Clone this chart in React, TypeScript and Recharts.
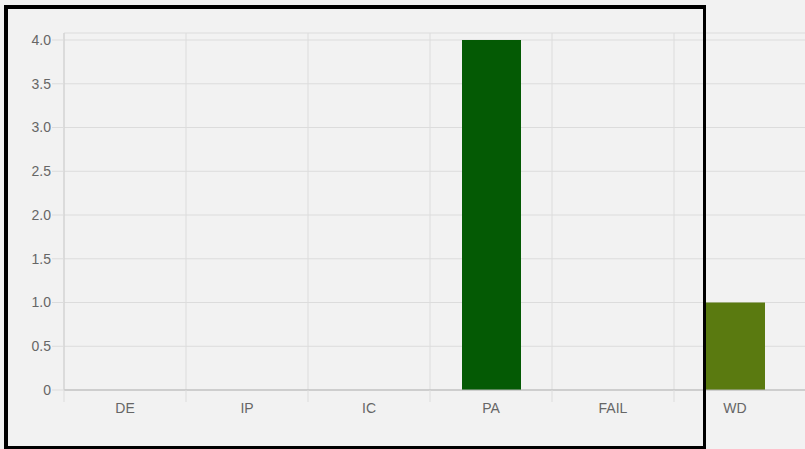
import { BarChart, Bar, XAxis, YAxis, CartesianGrid, Cell } from 'recharts';

const categories = ['DE', 'IP', 'IC', 'PA', 'FAIL', 'WD'];
const counts = [0, 0, 0, 4, 0, 1];
const yTicks = [0, 0.5, 1, 1.5, 2, 2.5, 3, 3.5, 4];
const barColors = ['#1f5fa8', '#c98a1a', '#8a8a8a', '#045a04', '#b22222', '#5a7a10'];

const data = categories.map((name, i) => ({ name, value: counts[i] }));

// layout
const CHART_W = 918;
const CHART_H = 449;
const BAND = 122;
const FONT = '"Liberation Sans", Arial, sans-serif';
const GRID = '#dcdcdc';

function CategoryTick(props: any) {
  const { x, y, payload } = props;
  const lineX = x - BAND / 2;
  return (
    <g>
      <line x1={lineX} y1={y} x2={lineX} y2={y + 12} stroke={GRID} />
      <text x={x} y={y + 23} textAnchor="middle" fill="#666" fontSize={14} fontFamily={FONT}>
        {payload.value}
      </text>
    </g>
  );
}

export default function App() {
  return (
    <div
      style={{
        position: 'absolute',
        left: 0,
        top: 0,
        width: 805,
        height: 449,
        overflow: 'hidden',
        background: '#f2f2f2',
      }}
    >
      <BarChart
        width={CHART_W}
        height={CHART_H}
        data={data}
        margin={{ top: 33, right: 0, bottom: 0, left: 0 }}
      >
        <CartesianGrid
          stroke={GRID}
          verticalCoordinatesGenerator={({ offset }: any) =>
            categories.map((_, i) => offset.left + i * BAND)
          }
        />
        <XAxis
          dataKey="name"
          height={59}
          interval={0}
          padding={{ left: 0, right: BAND }}
          axisLine={{ stroke: '#b5b5b5' }}
          tickLine={false}
          tickSize={0}
          tickMargin={0}
          tick={<CategoryTick />}
        />
        <YAxis
          width={64}
          domain={[0, 4.08]}
          ticks={yTicks}
          interval={0}
          axisLine={{ stroke: '#cfcfcf' }}
          tickLine={{ stroke: GRID }}
          tickSize={12}
          tickMargin={1}
          tick={{ fill: '#666', fontSize: 14, fontFamily: FONT }}
          tickFormatter={(v: number) => (v === 0 ? '0' : v.toFixed(1))}
        />
        <Bar dataKey="value" barSize={59} isAnimationActive={false}>
          {data.map((d, i) => (
            <Cell key={d.name} fill={barColors[i]} />
          ))}
        </Bar>
      </BarChart>
      <div
        style={{
          position: 'absolute',
          left: 4,
          top: 5,
          width: 702,
          height: 444,
          boxSizing: 'border-box',
          borderStyle: 'solid',
          borderColor: '#000',
          borderWidth: '4px 3px 3px 4px',
          pointerEvents: 'none',
        }}
      />
    </div>
  );
}
